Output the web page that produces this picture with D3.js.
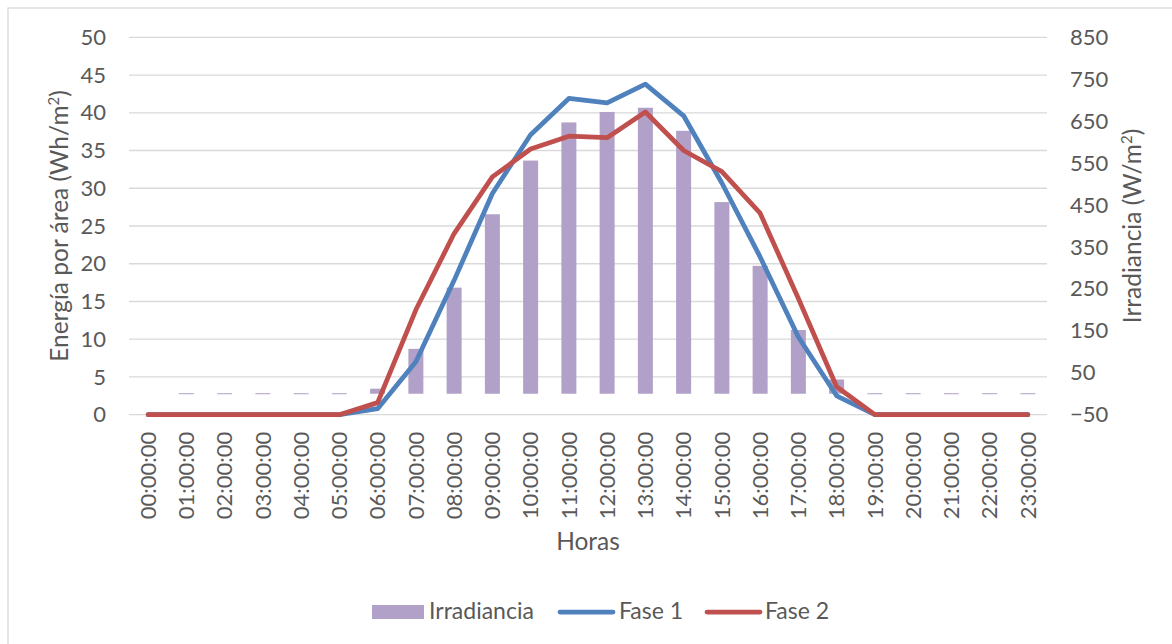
<!DOCTYPE html>
<html>
<head>
<meta charset="utf-8">
<script src="https://cdn.jsdelivr.net/npm/d3@7"></script>
<style>
  body { margin: 0; background: #fff; }
  text { font-family: Lato, "Open Sans", sans-serif; fill: #595959; }
</style>
</head>
<body>
<svg width="1172" height="644"></svg>
<script>
var horas = ["00:00:00","01:00:00","02:00:00","03:00:00","04:00:00","05:00:00",
  "06:00:00","07:00:00","08:00:00","09:00:00","10:00:00","11:00:00",
  "12:00:00","13:00:00","14:00:00","15:00:00","16:00:00","17:00:00",
  "18:00:00","19:00:00","20:00:00","21:00:00","22:00:00","23:00:00"]

// W/m2, right axis
var irradiancia = [null,0,0,0,0,0,12,107,253,428,556,647,672,682,627,457,305,152,34,0,0,0,0,0]
// Wh/m2, left axis
var fase1 = [0,0,0,0,0,0,0.8,7.0,17.8,29.3,37.1,41.9,41.3,43.8,39.6,30.7,20.9,10.3,2.5,0,0,0,0,0]
var fase2 = [0,0,0,0,0,0,1.6,13.9,24.0,31.5,35.2,36.9,36.7,40.1,35.0,32.2,26.7,15.4,3.7,0,0,0,0,0]

var leftTicks = d3.range(0, 51, 5)
var rightTicks = d3.range(-50, 851, 100)

var svg = d3.select('svg')
var fs = '22px'      // tick labels
var fsTitle = '24.5px'
var fsLegend = '23px'

// chart border
svg.append('rect')
  .attr('x', 8).attr('y', 8)
  .attr('width', 1180).attr('height', 650)
  .attr('fill', 'none')
  .attr('stroke', '#d9d9d9')
  .attr('stroke-width', 1.3)

var plotL = 129, plotR = 1047, plotT = 37.3, plotB = 414.7

var x = d3.scaleBand()
  .domain(horas)
  .range([plotL, plotR])
  .paddingInner(0.608)
  .paddingOuter(0.304)

var yL = d3.scaleLinear().domain([0, 50]).range([plotB, plotT])
var yR = d3.scaleLinear().domain([-50, 850]).range([plotB, plotT])

var cx = function(d) { return x(d) + x.bandwidth() / 2 }

// gridlines
svg.append('g')
  .selectAll('line.grid')
  .data(leftTicks)
  .enter()
  .append('line')
  .classed('grid', true)
  .attr('x1', plotL).attr('x2', plotR)
  .attr('y1', function(d) { return yL(d) })
  .attr('y2', function(d) { return yL(d) })
  .attr('stroke', '#d9d9d9')
  .attr('stroke-width', 1.3)

// left axis
var axL = svg.append('g')
  .attr('transform', 'translate(' + (plotL - 10) + ',0)')
  .call(d3.axisLeft(yL).tickValues(leftTicks).tickSize(0).tickPadding(13))
axL.select('.domain').remove()
axL.selectAll('text').style('font-size', fs).attr('fill', '#595959')

// right axis
var axR = svg.append('g')
  .attr('transform', 'translate(' + (plotR + 10) + ',0)')
  .call(d3.axisRight(yR).tickValues(rightTicks).tickSize(0).tickPadding(13))
axR.select('.domain').remove()
axR.selectAll('text').style('font-size', fs).attr('fill', '#595959')

// bottom axis, rotated labels
var axB = svg.append('g')
  .attr('transform', 'translate(0,' + plotB + ')')
  .call(d3.axisBottom(x).tickSize(0))
axB.select('.domain').remove()
axB.selectAll('text')
  .style('font-size', fs)
  .attr('fill', '#595959')
  .attr('transform', 'rotate(-90)')
  .attr('text-anchor', 'end')
  .attr('x', -17)
  .attr('y', 0)
  .attr('dy', '0.35em')
svg.selectAll('.tick text').attr('font-family', null)

// bars
var barData = horas.map(function(h, i) { return {h: h, v: irradiancia[i]} })
  .filter(function(d) { return d.v !== null })
svg.append('g')
  .selectAll('rect.bar')
  .data(barData)
  .enter()
  .append('rect')
  .classed('bar', true)
  .attr('x', function(d) { return x(d.h) })
  .attr('width', x.bandwidth())
  .attr('y', function(d) { return d.v > 0 ? yR(d.v) : yR(0) - 0.5 })
  .attr('height', function(d) { return d.v > 0 ? yR(0) - yR(d.v) : 1 })
  .attr('fill', '#b1a0c7')

// lines
var line = d3.line()
  .x(function(d) { return cx(d.h) })
  .y(function(d) { return yL(d.v) })

var series = [
  {name: 'Fase 1', values: fase1, color: '#4f81bd'},
  {name: 'Fase 2', values: fase2, color: '#c0504d'}
]
series.forEach(function(s) {
  svg.append('path')
    .datum(horas.map(function(h, i) { return {h: h, v: s.values[i]} }))
    .attr('d', line)
    .attr('fill', 'none')
    .attr('stroke', s.color)
    .attr('stroke-width', 4.75)
    .attr('stroke-linejoin', 'round')
    .attr('stroke-linecap', 'round')
})

// axis titles
svg.append('text')
  .attr('transform', 'translate(68,226) rotate(-90)')
  .attr('text-anchor', 'middle')
  .style('font-size', fsTitle)
  .html('Energía por área (Wh/m<tspan baseline-shift="super" font-size="15px">2</tspan>)')

svg.append('text')
  .attr('transform', 'translate(1141,226) rotate(-90)')
  .attr('text-anchor', 'middle')
  .style('font-size', fsTitle)
  .html('Irradiancia (W/m<tspan baseline-shift="super" font-size="15px">2</tspan>)')

svg.append('text')
  .attr('x', (plotL + plotR) / 2).attr('y', 550)
  .attr('text-anchor', 'middle')
  .style('font-size', fsTitle)
  .text('Horas')

// legend
var legend = svg.append('g')
legend.append('rect')
  .attr('x', 372).attr('y', 605).attr('width', 52).attr('height', 14)
  .attr('fill', '#b1a0c7')
legend.append('text').attr('x', 429).attr('y', 619).style('font-size', fsLegend).text('Irradiancia')

legend.append('line')
  .attr('x1', 560).attr('x2', 613).attr('y1', 612).attr('y2', 612)
  .attr('stroke', '#4f81bd').attr('stroke-width', 4.75).attr('stroke-linecap', 'round')
legend.append('text').attr('x', 619).attr('y', 619).style('font-size', fsLegend).text('Fase 1')

legend.append('line')
  .attr('x1', 707).attr('x2', 760).attr('y1', 612).attr('y2', 612)
  .attr('stroke', '#c0504d').attr('stroke-width', 4.75).attr('stroke-linecap', 'round')
legend.append('text').attr('x', 765).attr('y', 619).style('font-size', fsLegend).text('Fase 2')
</script>
</body>
</html>
